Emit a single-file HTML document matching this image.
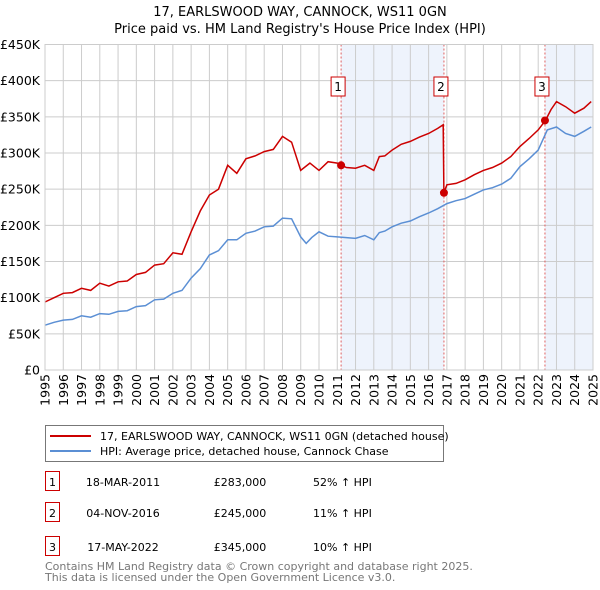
<!DOCTYPE html>
<html><head><meta charset="utf-8">
<style>
body{margin:0;background:#fff;font-family:"Liberation Sans","DejaVu Sans",sans-serif;}
#wrap{position:relative;width:600px;height:590px;overflow:hidden;}
svg text{font-family:"DejaVu Sans","Liberation Sans",sans-serif;}
</style></head><body>
<div id="wrap">
<svg id="chart" width="600" height="590"></svg>
</div>
<script>
const yTicks=[0,50000,100000,150000,200000,250000,300000,350000,400000,450000];
const yTickLabels=["£0","£50K","£100K","£150K","£200K","£250K","£300K","£350K","£400K","£450K"];
const xYears=[1995,1996,1997,1998,1999,2000,2001,2002,2003,2004,2005,2006,2007,2008,2009,2010,2011,2012,2013,2014,2015,2016,2017,2018,2019,2020,2021,2022,2023,2024,2025];
const hpiYears=[1995,1995.5,1996,1996.5,1997,1997.5,1998,1998.5,1999,1999.5,2000,2000.5,2001,2001.5,2002,2002.5,2003,2003.5,2004,2004.5,2005,2005.5,2006,2006.5,2007,2007.5,2008,2008.5,2009,2009.3,2009.6,2010,2010.5,2011,2011.5,2012,2012.5,2013,2013.3,2013.6,2014,2014.5,2015,2015.5,2016,2016.5,2017,2017.5,2018,2018.5,2019,2019.5,2020,2020.5,2021,2021.5,2022,2022.5,2023,2023.5,2024,2024.5,2024.9];
const hpiValues=[62000,66000,69000,70000,75000,73000,78000,77000,81000,82000,87600,89000,97000,98000,106000,110000,127000,140000,159000,165000,180000,180000,189000,192000,198000,199000,210000,209000,184000,175000,183000,191000,185000,184000,183000,182000,186000,180000,190000,192000,198000,203000,206000,212000,217000,223000,230000,234000,237000,243000,249000,252000,257000,265000,281000,292000,304000,332000,336000,327000,323000,330000,336000];
const priceYears=[1995,1995.5,1996,1996.5,1997,1997.5,1998,1998.5,1999,1999.5,2000,2000.5,2001,2001.5,2002,2002.5,2003,2003.5,2004,2004.5,2005,2005.5,2006,2006.5,2007,2007.5,2008,2008.5,2009,2009.5,2010,2010.5,2011,2011.5,2012,2012.5,2013,2013.3,2013.6,2014,2014.5,2015,2015.5,2016,2016.5,2016.8,2016.84,2017,2017.5,2018,2018.5,2019,2019.5,2020,2020.5,2021,2021.5,2022,2022.4,2022.7,2023,2023.5,2024,2024.5,2024.9];
const priceValues=[94000,100000,106000,107000,113000,110000,120000,116000,122000,123000,132000,135000,145000,147000,162000,160000,191000,220000,242000,250000,283000,272000,292000,296000,302000,305000,323000,315000,276000,286000,276000,288000,286000,280000,279000,283000,276000,295000,296000,304000,312000,316000,322000,327000,334000,339000,245000,256000,258000,263000,270000,276000,280000,286000,295000,309000,320000,332000,345000,360000,371000,364000,355000,362000,371000];
const saleYears=[2011.21,2016.84,2022.37];
const saleValues=[283000,245000,345000];
const saleLabels=["1","2","3"];

const NS="http://www.w3.org/2000/svg";
const svg=document.getElementById('chart');
const X0=45,X1=593,Y0=370,Y1=44.5;
function xs(y){return X0+(y-1995)/30*(X1-X0);}
function ys(v){return Y0-v/450000*(Y0-Y1);}
function el(tag,attrs,parent){const e=document.createElementNS(NS,tag);for(const k in attrs)e.setAttribute(k,attrs[k]);(parent||svg).appendChild(e);return e;}
function txt(s,attrs,parent){const t=el('text',attrs,parent);t.textContent=s;return t;}

let t=txt("17, EARLSWOOD WAY, CANNOCK, WS11 0GN",{x:300,y:16,'text-anchor':'middle','font-size':13,fill:'#000'});


t=txt("Price paid vs. HM Land Registry's House Price Index (HPI)",{x:300,y:33,'text-anchor':'middle','font-size':13,fill:'#000'});



let sh=el('rect',{x:xs(saleYears[0]),y:Y1,width:xs(saleYears[1])-xs(saleYears[0]),height:Y0-Y1,fill:'#eef3fc'});


sh=el('rect',{x:xs(saleYears[2]),y:Y1,width:X1-xs(saleYears[2]),height:Y0-Y1,fill:'#eef3fc'});



xYears.forEach(y=>{const l=el('line',{x1:xs(y),x2:xs(y),y1:Y1,y2:Y0,stroke:'#cccccc','stroke-width':1});

});
yTicks.forEach((v,i)=>{const l=el('line',{x1:X0,x2:X1,y1:ys(v),y2:ys(v),stroke:'#cccccc','stroke-width':1});


const tt=txt(yTickLabels[i],{x:40,y:ys(v)+4.5,'text-anchor':'end','font-size':12.5,fill:'#000'});

});
xYears.forEach(y=>{const tt=txt(String(y),{x:0,y:0,'font-size':12.5,fill:'#000','text-anchor':'end',transform:`translate(${xs(y)+4.5},374) rotate(-90)`});

});

saleYears.forEach((y,i)=>{const l=el('line',{x1:xs(y),x2:xs(y),y1:Y1,y2:Y0,stroke:'#e06060','stroke-width':1,'stroke-dasharray':'2,2'});


const bx=xs(y)-3;
const r=el('rect',{x:bx-7,y:77,width:14,height:19,fill:'#fff',stroke:'#cc0000','stroke-width':1});


const tt=txt(saleLabels[i],{x:bx,y:91,'text-anchor':'middle','font-size':12,fill:'#000'});

});

let d=hpiYears.map((y,i)=>(i?'L':'M')+xs(y).toFixed(1)+','+ys(hpiValues[i]).toFixed(1)).join('');
let p=el('path',{d:d,fill:'none',stroke:'#5b8fd4','stroke-width':1.5});


d=priceYears.map((y,i)=>(i?'L':'M')+xs(y).toFixed(1)+','+ys(priceValues[i]).toFixed(1)).join('');
p=el('path',{d:d,fill:'none',stroke:'#cc0000','stroke-width':1.5});


saleYears.forEach((y,i)=>{const c=el('circle',{cx:xs(y),cy:ys(saleValues[i]),r:4,fill:'#cc0000'});

});

let b=el('rect',{x:X0,y:Y1,width:X1-X0,height:Y0-Y1,fill:'none',stroke:'#cccccc'});



const lg=el('g',{});


el('rect',{x:45.5,y:425.5,width:398,height:36,fill:'#fff',stroke:'#777'},lg);
let ll=el('line',{x1:50,x2:91,y1:436,y2:436,stroke:'#cc0000','stroke-width':2},lg);


t=txt("17, EARLSWOOD WAY, CANNOCK, WS11 0GN (detached house)",{x:100,y:440,'font-size':11,fill:'#000'},lg);


ll=el('line',{x1:50,x2:91,y1:451,y2:451,stroke:'#5b8fd4','stroke-width':2},lg);


t=txt("HPI: Average price, detached house, Cannock Chase",{x:100,y:455,'font-size':11,fill:'#000'},lg);



const rowsDate=["18-MAR-2011","04-NOV-2016","17-MAY-2022"];
const rowsPrice=["£283,000","£245,000","£345,000"];
const rowsHpi=["52% \u2191 HPI","11% \u2191 HPI","10% \u2191 HPI"];
const rowY=[483,514,548];
rowY.forEach((ry,i)=>{const g=el('g',{});


el('rect',{x:45.5,y:ry-11.5,width:14,height:19,fill:'#fff',stroke:'#cc0000'},g);
txt(saleLabels[i],{x:52.5,y:ry+3,'text-anchor':'middle','font-size':11,fill:'#000'},g);
txt(rowsDate[i],{x:123,y:ry+3,'text-anchor':'middle','font-size':11,fill:'#000'},g);
txt(rowsPrice[i],{x:240,y:ry+3,'text-anchor':'middle','font-size':11,fill:'#000'},g);
txt(rowsHpi[i],{x:313,y:ry+3,'font-size':11,fill:'#000'},g);});

t=txt("Contains HM Land Registry data \u00a9 Crown copyright and database right 2025.",{x:45,y:570,'font-size':11,fill:'#777'});


t=txt("This data is licensed under the Open Government Licence v3.0.",{x:45,y:581,'font-size':11,fill:'#777'});


</script>
</body></html>
